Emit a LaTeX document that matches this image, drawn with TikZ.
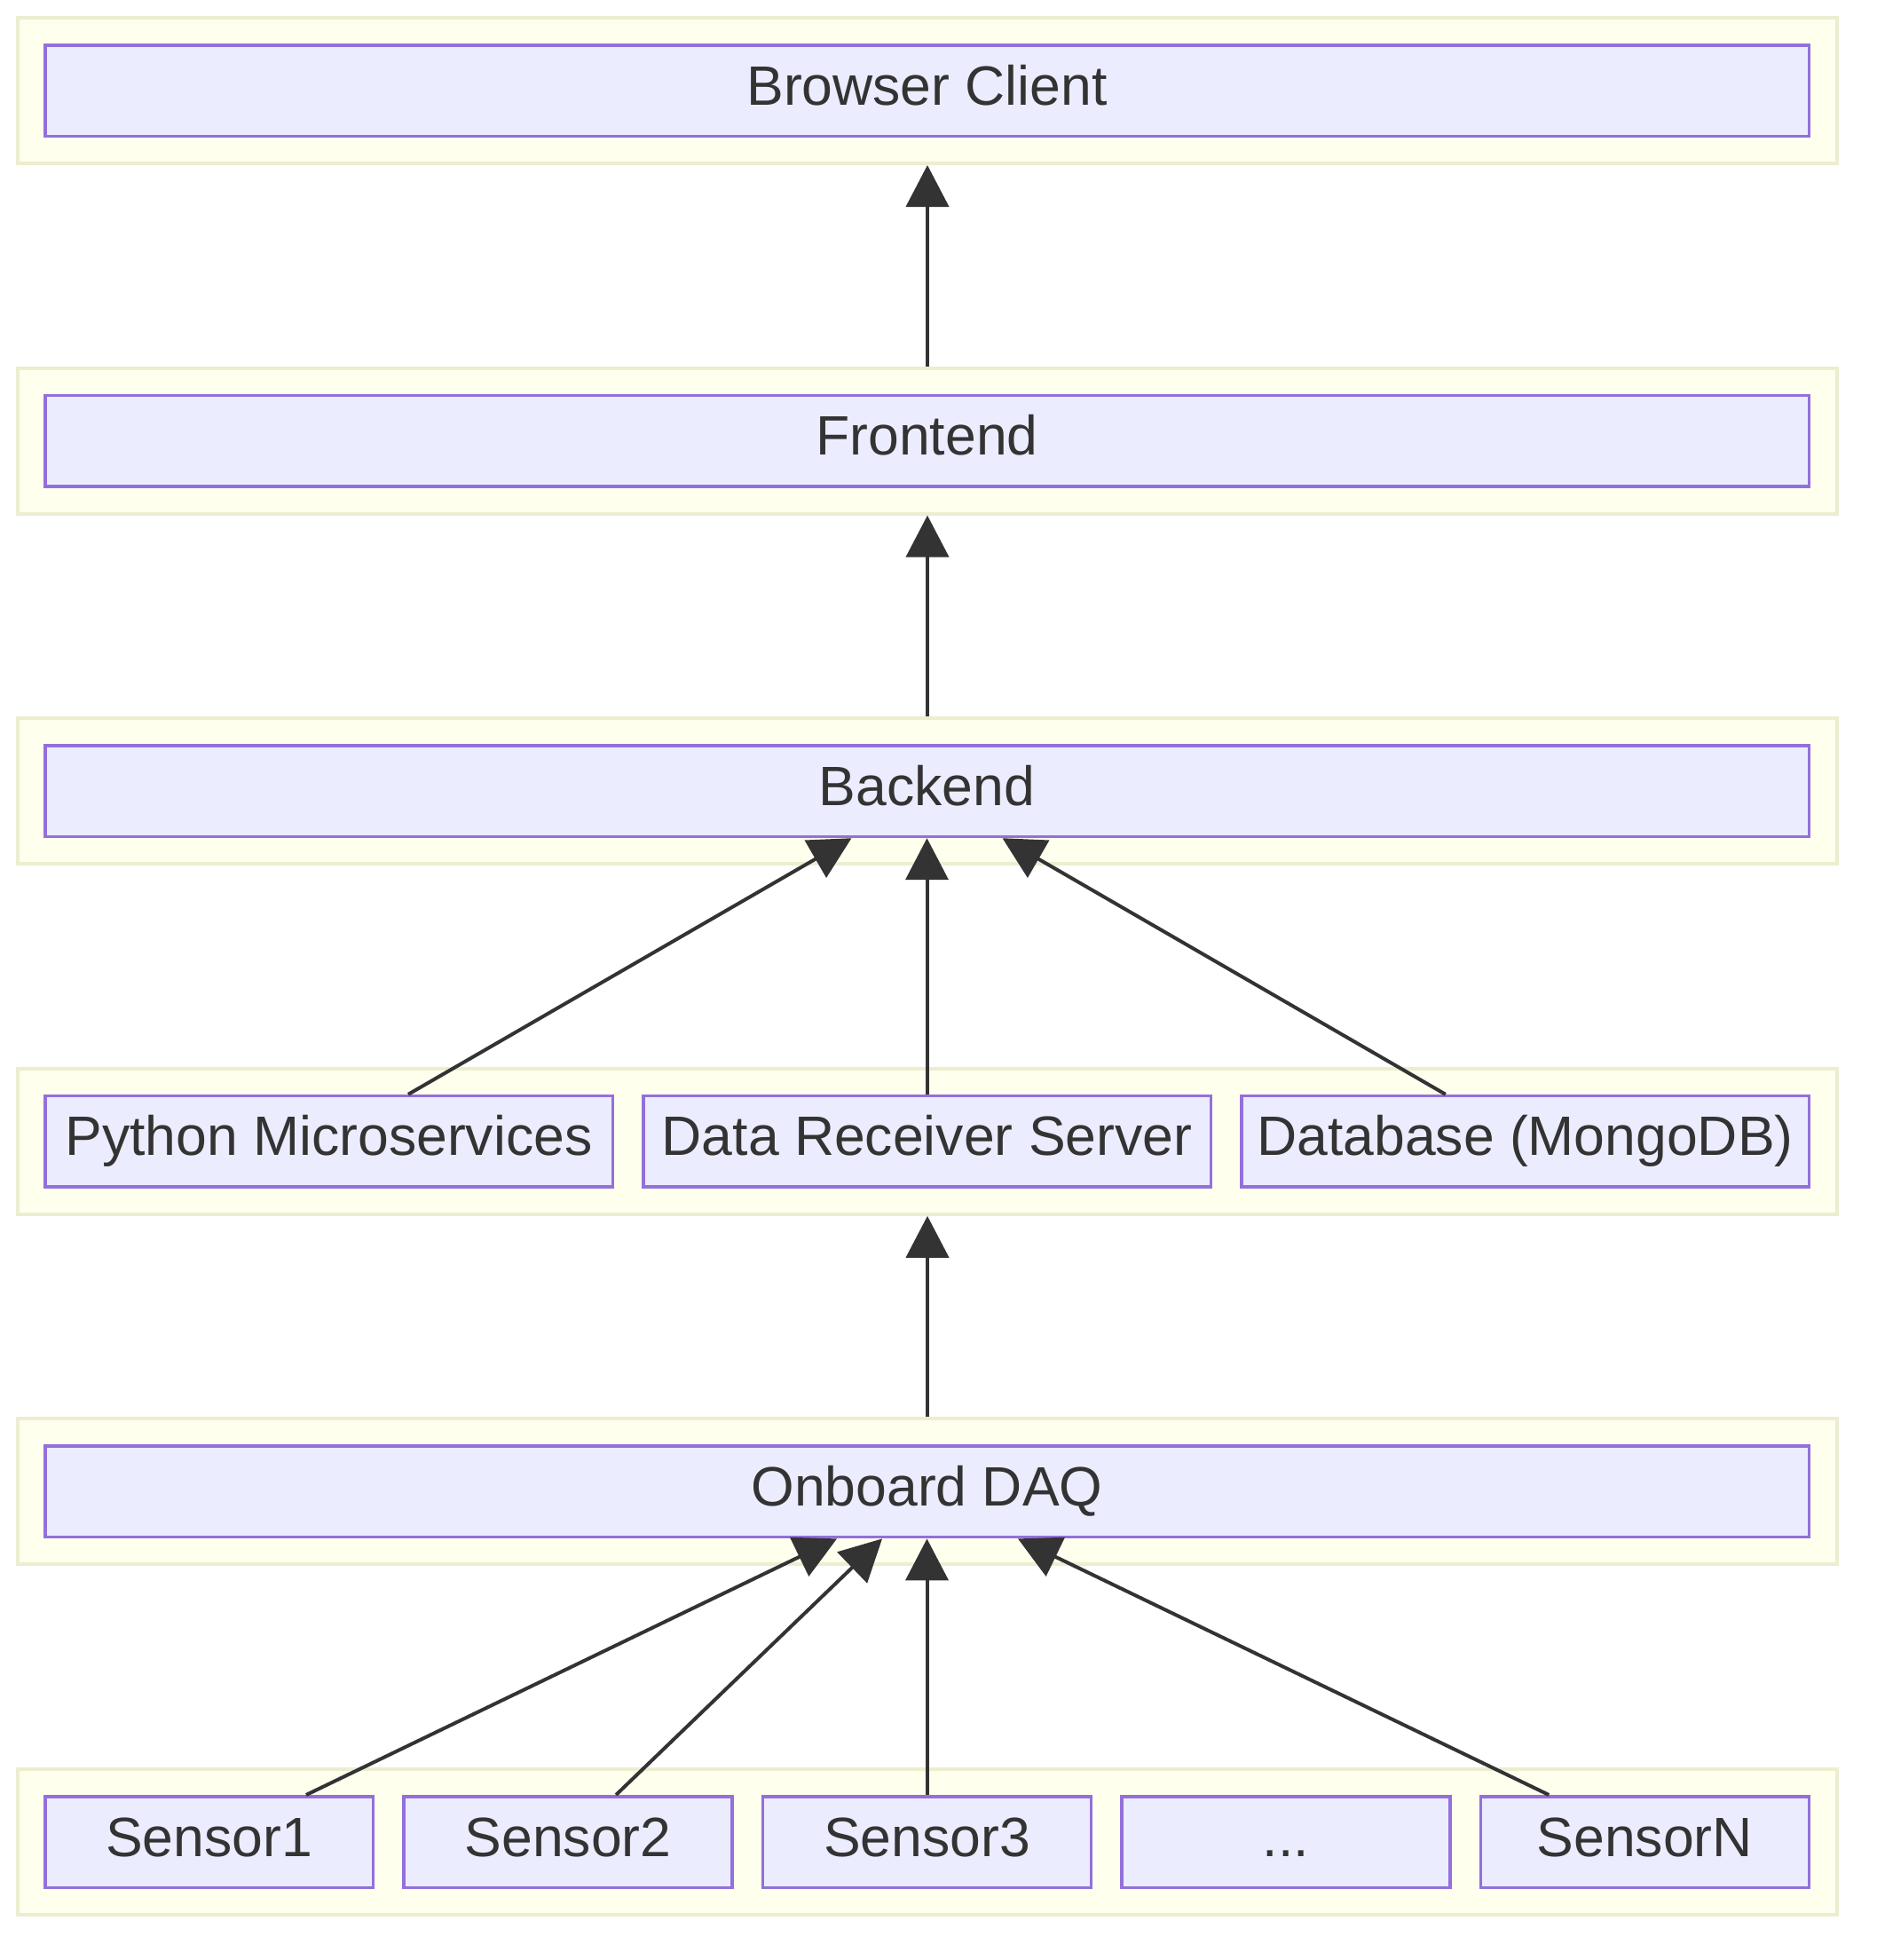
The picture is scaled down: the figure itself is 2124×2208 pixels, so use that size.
\documentclass[tikz,border=0pt]{standalone}
\usepackage{fontspec}
\setmainfont{Liberation Sans}
\usetikzlibrary{arrows.meta,positioning}
\definecolor{grpfill}{HTML}{FFFFEE}
\definecolor{grpline}{HTML}{EDEDD0}
\definecolor{boxfill}{HTML}{ECECFF}
\definecolor{boxline}{HTML}{9370DB}
\definecolor{ink}{HTML}{333333}
\begin{document}
\begin{tikzpicture}[x=0.5pt,y=-0.5pt,
  grp/.style={draw=grpline,fill=grpfill,line width=2pt,minimum width=1025pt,minimum height=82pt},
  box/.style={draw=boxline,fill=boxfill,line width=1.75pt,minimum height=51.25pt,text=ink,
    text height=22.5pt,text depth=6.5pt,font=\fontsize{31.25}{37}\selectfont},
  wide/.style={box,minimum width=993.75pt},
  third/.style={box,minimum width=319.75pt},
  fifth/.style={box,minimum width=184.95pt},
  link/.style={draw=ink,line width=2pt,-{Triangle[length=23.5pt,width=24pt]}}]
\tikzstyle{every node}+=[inner sep=0pt]
\useasboundingbox (0,0) rectangle (2124,2208);
\node[grp] (gBrowser) at (1045,102) {};
\node[wide] (browser) at (1044.5,102) {Browser Client};
\node[grp] (gFront) at (1045,496.6) {};
\node[wide] (front) at (1044.5,496.6) {Frontend};
\node[grp] (gBack) at (1045,891.2) {};
\node[wide] (back) at (1044.5,891.2) {Backend};
\node[grp] (gServ) at (1045,1285.8) {};
\node[third] (recv) at (1044.5,1285.8) {Data Receiver Server};
\node[third,left=15.5pt of recv] (py) {Python Microservices};
\node[third,right=15.5pt of recv] (db) {Database (MongoDB)};
\node[grp] (gDaq) at (1045,1680.4) {};
\node[wide] (daq) at (1044.5,1680.4) {Onboard DAQ};
\node[grp] (gSens) at (1045,2075) {};
\node[fifth] (s3) at (1044.5,2075) {Sensor3};
\node[fifth,left=15.5pt of s3] (s2) {Sensor2};
\node[fifth,left=15.5pt of s2] (s1) {Sensor1};
\node[fifth,right=15.5pt of s3] (s4) {...};
\node[fifth,right=15.5pt of s4] (sN) {SensorN};
\draw[link] (gFront.north) -- (gBrowser.south);
\draw[link] (gBack.north) -- (gFront.south);
\draw[link] ([xshift=44.75pt]py.north) -- ([xshift=-42.5pt]back.south);
\draw[link] (recv.north) -- (back.south);
\draw[link] ([xshift=-44.85pt]db.north) -- ([xshift=42.5pt]back.south);
\draw[link] (gDaq.north) -- (gServ.south);
\draw[link] ([xshift=54.65pt]s1.north) -- ([xshift=-50.75pt]daq.south);
\draw[link] ([xshift=27pt]s2.north) -- ([xshift=-25.25pt]daq.south);
\draw[link] (s3.north) -- (daq.south);
\draw[link] ([xshift=-54pt]sN.north) -- ([xshift=51.25pt]daq.south);
\end{tikzpicture}
\end{document}
